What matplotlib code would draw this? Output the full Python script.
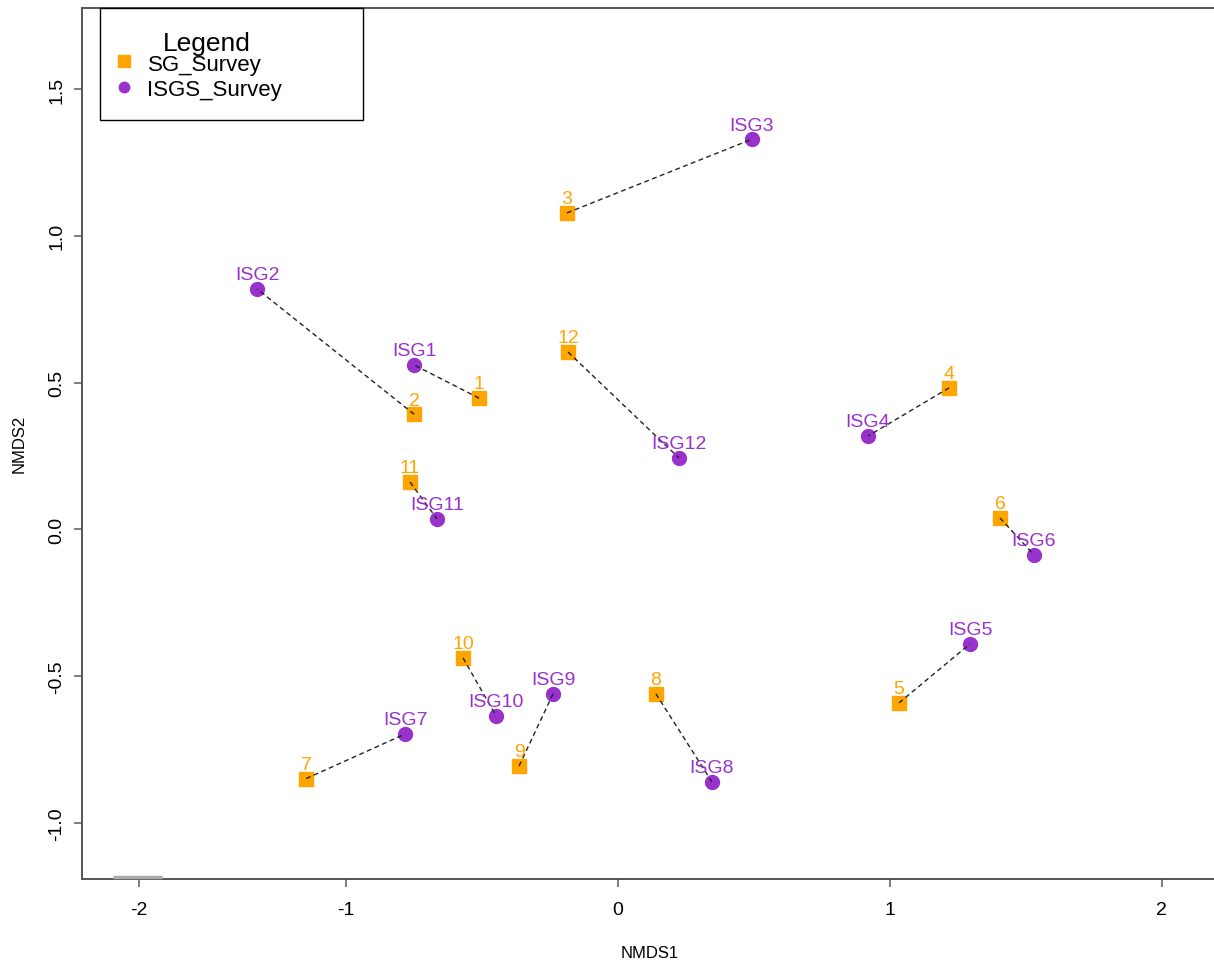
import matplotlib
matplotlib.use("Agg")
import matplotlib.pyplot as plt
from matplotlib.patches import Rectangle
from matplotlib.lines import Line2D

# NMDS scores for the two surveys, site by site
sg_labels = ["1", "2", "3", "4", "5", "6", "7", "8", "9", "10", "11", "12"]
sg_x = [-0.509, -0.748, -0.186, 1.219, 1.035, 1.406, -1.145, 0.141, -0.362, -0.568, -0.763, -0.182]
sg_y = [0.447, 0.392, 1.078, 0.482, -0.591, 0.039, -0.849, -0.560, -0.806, -0.438, 0.161, 0.604]

isg_labels = ["ISG1", "ISG2", "ISG3", "ISG4", "ISG5", "ISG6",
              "ISG7", "ISG8", "ISG9", "ISG10", "ISG11", "ISG12"]
isg_x = [-0.748, -1.325, 0.494, 0.921, 1.296, 1.531, -0.781, 0.347, -0.237, -0.447, -0.664, 0.226]
isg_y = [0.560, 0.819, 1.329, 0.318, -0.390, -0.087, -0.697, -0.860, -0.560, -0.635, 0.036, 0.243]

xtick_pos = [-1.76, -1, 0, 1, 2]
xtick_lab = ["-2", "-1", "0", "1", "2"]
ytick_pos = [-1.0, -0.5, 0.0, 0.5, 1.0, 1.5]
ytick_lab = ["-1.0", "-0.5", "0.0", "0.5", "1.0", "1.5"]

orange = "#FFA500"
purple = "#9932CC"
plt.rcParams["font.family"] = ["Liberation Sans", "DejaVu Sans"]

fig = plt.figure(figsize=(12.14, 9.62), dpi=100)
ax = fig.add_axes([82 / 1214, 1 - 880 / 962, 1 - 82 / 1214, 871 / 962])

# dashed links between paired sites
for x0, y0, x1, y1 in zip(sg_x, sg_y, isg_x, isg_y):
    ax.plot([x0, x1], [y0, y1], color="#222222", lw=1.0, dashes=(3.5, 2.5), zorder=4)

ax.plot(sg_x, sg_y, "s", color=orange, ms=10.5, mec=orange, zorder=3, ls="none")
ax.plot(isg_x, isg_y, "o", color=purple, ms=10, mec=purple, zorder=3, ls="none")

for lab, x, y in zip(sg_labels, sg_x, sg_y):
    ax.annotate(lab, (x, y), xytext=(0, 7), textcoords="offset points",
                ha="center", va="baseline", color=orange, fontsize=14, zorder=5)
for lab, x, y in zip(isg_labels, isg_x, isg_y):
    ax.annotate(lab, (x, y), xytext=(0, 7), textcoords="offset points",
                ha="center", va="baseline", color=purple, fontsize=14, zorder=5)

ax.set_xlim(-1.969, 2.193)
ax.set_ylim(-1.191, 1.776)

ax.set_xticks(xtick_pos)
ax.set_xticklabels(xtick_lab, fontsize=14)
ax.set_yticks(ytick_pos)
ax.set_yticklabels(ytick_lab, fontsize=14, rotation=90, va="center")
ax.tick_params(axis="x", length=6, width=1.2, color="#666666", pad=10)
ax.tick_params(axis="y", length=6, width=1.2, color="#666666", pad=6)

for side in ["left", "bottom", "top"]:
    ax.spines[side].set_color("#555555")
    ax.spines[side].set_linewidth(1.4)
ax.spines["right"].set_visible(False)

# short grey smudge over the bottom axis line near the first tick
ax.plot([-1.855, -1.675], [-1.185, -1.185], color="#aaaaaa", lw=2.5,
        solid_capstyle="butt", clip_on=False, zorder=6)

fig.text(650 / 1214, 1 - 954 / 962, "NMDS1", ha="center", va="center", fontsize=12)
fig.text(19 / 1214, 1 - 444 / 962, "NMDS2", ha="center", va="center",
         rotation=90, fontsize=12)

# legend box in the top-left corner
ax.add_patch(Rectangle((0.0159, 0.8714), 0.2323, 0.1286, transform=ax.transAxes,
                       fill=False, ec="black", lw=1.0, zorder=7, clip_on=False))
ax.text(0.1104, 0.9598, "Legend", transform=ax.transAxes, ha="center", va="center",
        fontsize=19, zorder=7)
ax.add_line(Line2D([0.0371], [0.9391], transform=ax.transAxes, marker="s", ms=8,
                   color=orange, ls="none", zorder=7))
ax.add_line(Line2D([0.0371], [0.9093], transform=ax.transAxes, marker="o", ms=7.5,
                   color=purple, ls="none", zorder=7))
ax.text(0.0583, 0.9357, "SG_Survey", transform=ax.transAxes, ha="left", va="center",
        fontsize=16, zorder=7)
ax.text(0.0575, 0.9070, "ISGS_Survey", transform=ax.transAxes, ha="left", va="center",
        fontsize=16, zorder=7)

fig.savefig("out.png", dpi=100)
